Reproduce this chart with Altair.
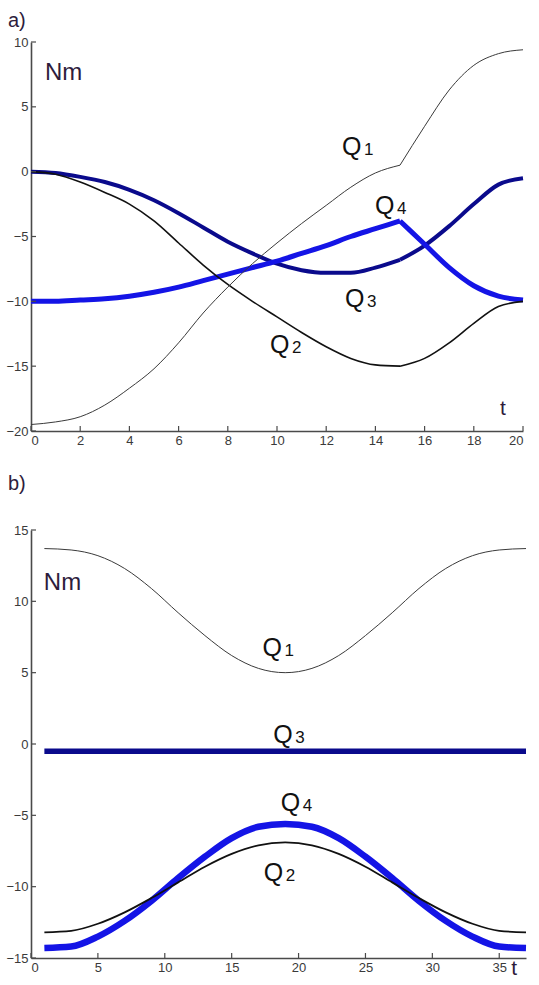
import altair as alt
import pandas as pd

# ---- panel a) : joint torques over t = 0..20 ----
t_a = list(range(0, 21))
q1_a = [-19.5, -19.3, -18.9, -18.0, -16.7, -15.2, -13.2, -10.9, -8.9, -7.1, -5.5,
        -4.0, -2.6, -1.2, -0.1, 0.5, 3.5, 6.3, 8.2, 9.1, 9.4]
q2_a = [0.0, -0.2, -0.8, -1.6, -2.5, -3.8, -5.5, -7.2, -8.7, -10.0, -11.2,
        -12.4, -13.5, -14.4, -14.9, -15.0, -14.4, -13.2, -11.7, -10.4, -10.0]
q3_a = [0.0, -0.1, -0.4, -0.8, -1.4, -2.2, -3.2, -4.3, -5.4, -6.3, -7.1,
        -7.6, -7.8, -7.8, -7.4, -6.8, -5.7, -4.2, -2.5, -1.0, -0.5]
q4_a = [-10.0, -10.0, -9.9, -9.8, -9.6, -9.3, -8.9, -8.4, -7.9, -7.4, -6.9,
        -6.3, -5.7, -5.0, -4.4, -3.8, -5.6, -7.4, -8.8, -9.6, -9.9]
switch_t_a = 15  # trajectory switches here: curves have a corner

# ---- panel b) : joint torques over t = 1..37 ----
t_b = list(range(1, 38, 2))
q1_b = [13.7, 13.6, 13.2, 12.3, 10.9, 9.2, 7.6, 6.2, 5.3, 5.0,
        5.3, 6.2, 7.6, 9.2, 10.9, 12.3, 13.2, 13.6, 13.7]
q2_b = [-13.2, -13.1, -12.6, -11.8, -10.8, -9.7, -8.6, -7.7, -7.1, -6.9,
        -7.1, -7.7, -8.6, -9.7, -10.8, -11.8, -12.6, -13.1, -13.2]
q3_b = [-0.5] * 19
q4_b = [-14.3, -14.2, -13.5, -12.4, -11.0, -9.4, -7.9, -6.6, -5.8, -5.6,
        -5.8, -6.6, -7.9, -9.4, -11.0, -12.4, -13.5, -14.2, -14.3]
switch_t_b = None

# axis ticks
x_ticks_a = [0, 2, 4, 6, 8, 10, 12, 14, 16, 18, 20]
y_ticks_a = [-20, -15, -10, -5, 0, 5, 10]
x_ticks_b = [0, 5, 10, 15, 20, 25, 30, 35]
y_ticks_b = [-15, -10, -5, 0, 5, 10, 15]

# curve labels Q_i (left edge / baseline, data units)
lab_digits = ["1", "2", "3", "4"]
lab_t_a = [12.64, 9.72, 12.76, 13.98]
lab_v_a = [1.28, -14.0, -10.45, -3.27]
lab_t_b = [17.3, 17.4, 18.1, 18.66]
lab_v_b = [6.15, -9.6, 0.1, -4.7]

AXIS_GRAY = "#4a4a4a"
INK = "#2e1c3c"
NAVY = "#0a0a8c"
BLUE = "#1414e6"
FONT = "Liberation Sans"


def segments(t, v, switch):
    """Long table of one curve, split into pieces at the switching time."""
    rows = []
    for ti, vi in zip(t, v):
        if switch is None:
            rows.append((ti, vi, 0))
        else:
            if ti <= switch:
                rows.append((ti, vi, 0))
            if ti >= switch:
                rows.append((ti, vi, 1))
    return pd.DataFrame(rows, columns=["t", "v", "seg"])


def panel(t, qs, widths, switch, xdom, ydom, xticks, yticks, w, h,
          lab_t, lab_v, unit_xy, t_xy, tag, tag_y):
    x_enc = alt.X("t:Q", scale=alt.Scale(domain=xdom, nice=False, zero=False),
                  axis=alt.Axis(values=xticks, title=None, format="d"))
    y_enc = alt.Y("v:Q", scale=alt.Scale(domain=ydom, nice=False, zero=False),
                  axis=alt.Axis(values=yticks, title=None, format="d"))
    colors = ["#3a3a3a", "#111111", NAVY, BLUE]
    order = [2, 3, 1, 0]
    layers = []
    for i in order:
        df = segments(t, qs[i], switch)
        layers.append(alt.Chart(df).mark_line(
            color=colors[i], strokeWidth=widths[i], strokeCap="butt",
            strokeJoin="miter", interpolate="monotone").encode(
                x=x_enc, y=y_enc, detail="seg:N"))

    # inward tick marks
    ydf = pd.DataFrame({"v": yticks})
    layers.append(alt.Chart(ydf).mark_rule(color=AXIS_GRAY, strokeWidth=1.2).encode(
        y=y_enc, x=alt.value(0), x2=alt.value(5)))
    xdf = pd.DataFrame({"t": xticks})
    layers.append(alt.Chart(xdf).mark_rule(color=AXIS_GRAY, strokeWidth=1.2).encode(
        x=x_enc, y=alt.value(h), y2=alt.value(h - 5)))

    ldf = pd.DataFrame({"t": lab_t, "v": lab_v, "d": lab_digits})
    layers.append(alt.Chart(ldf).mark_text(
        text="Q", fontSize=25, font=FONT, align="left", baseline="alphabetic",
        color="#111111").encode(x=x_enc, y=y_enc))
    layers.append(alt.Chart(ldf).mark_text(
        fontSize=17, font=FONT, align="left", baseline="alphabetic", dx=22,
        color="#111111").encode(x=x_enc, y=y_enc, text="d:N"))

    udf = pd.DataFrame({"t": [unit_xy[0]], "v": [unit_xy[1]], "s": ["Nm"]})
    layers.append(alt.Chart(udf).mark_text(
        fontSize=24, font=FONT, align="left", baseline="alphabetic",
        color=INK).encode(x=x_enc, y=y_enc, text="s:N"))
    tdf = pd.DataFrame({"t": [t_xy[0]], "v": [t_xy[1]], "s": ["t"]})
    layers.append(alt.Chart(tdf).mark_text(
        fontSize=21, font=FONT, align="left", baseline="alphabetic",
        color=INK).encode(x=x_enc, y=y_enc, text="s:N"))

    # panel tag "a)" / "b)" above the upper-left corner
    gdf = pd.DataFrame({"s": [tag]})
    layers.append(alt.Chart(gdf).mark_text(
        fontSize=20, font=FONT, align="left", baseline="alphabetic",
        color=INK).encode(x=alt.value(-23), y=alt.value(tag_y), text="s:N"))

    return alt.layer(*layers).properties(width=w, height=h)


top = panel(t_a, [q1_a, q2_a, q3_a, q4_a], [1.0, 1.6, 4.0, 5.0], switch_t_a,
            [0, 20], [-20, 10], x_ticks_a, y_ticks_a, 492, 389,
            lab_t_a, lab_v_a, (0.57, 7.07), (19.07, -18.8), "a)", -15)
bottom = panel(t_b, [q1_b, q2_b, q3_b, q4_b], [1.0, 1.8, 5.5, 6.5], switch_t_b,
               [0, 37], [-15, 15], x_ticks_b, y_ticks_b, 495, 428,
               lab_t_b, lab_v_b, (0.96, 10.77), (35.9, -16.2), "b)", -40)

chart = alt.vconcat(top, bottom, spacing=27).properties(
    padding={"left": 5, "top": 11, "right": 0, "bottom": 0},
    background="white",
).configure_view(stroke=None).configure_axis(
    grid=False, ticks=False, domainColor=AXIS_GRAY, domainWidth=1.6,
    labelFont=FONT, labelFontSize=13, labelColor="#3a3a3a", labelPadding=3,
)

chart.save("out.html", embed_options={"renderer": "svg", "actions": False})
